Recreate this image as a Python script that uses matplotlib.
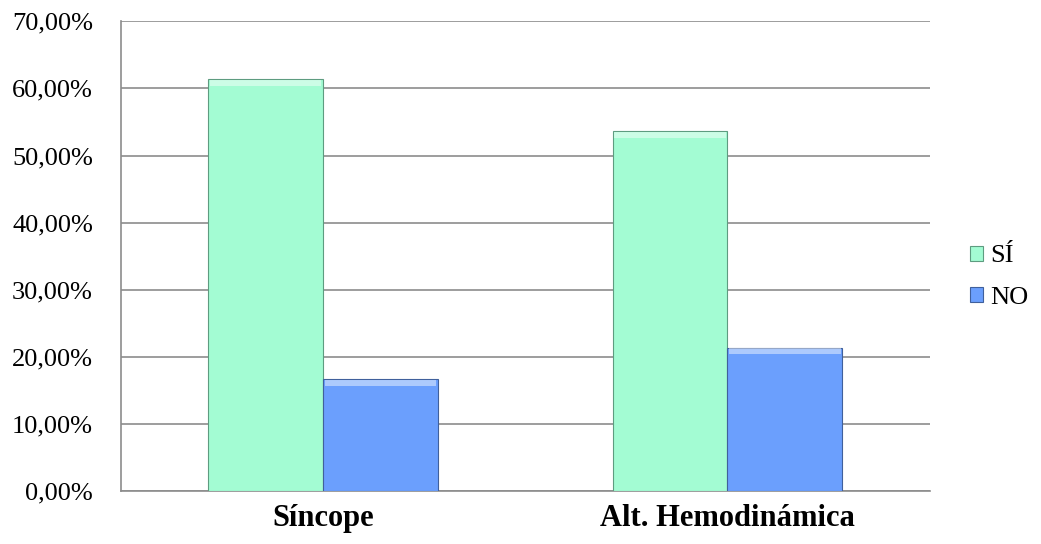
import matplotlib.pyplot as plt
import numpy as np
from matplotlib.ticker import FuncFormatter

plt.rcParams['font.family'] = ['Liberation Serif', 'DejaVu Serif']

categories = ['Síncope', 'Alt. Hemodinámica']
series = ['SÍ', 'NO']
si_vals = [61.4, 53.6]
no_vals = [16.7, 21.4]
colors = ['#a3fcd3', '#6b9ffd']
edges = ['#5e9c80', '#40609c']

fig = plt.figure(figsize=(10.41, 5.44), dpi=100)
ax = fig.add_axes([0.116, 0.097, 0.777, 0.864])

x = np.arange(len(categories))
w = 0.284
for i, (vals, c, ec, lab) in enumerate(zip([si_vals, no_vals], colors, edges, series)):
    off = (i - 0.5) * w
    ax.bar(x + off, vals, w, color=c, edgecolor=ec, linewidth=0.8, label=lab, zorder=3)
    # simple bevel: lighter strip on top of each bar
    ax.bar(x + off, [0.9] * len(vals), w * 0.97, bottom=np.array(vals) - 1.0,
           color='white', alpha=0.45, linewidth=0, zorder=4)

ax.set_xlim(-0.5, 1.5)
ax.set_ylim(0, 70)
ax.set_yticks(np.arange(0, 71, 10))
ax.yaxis.set_major_formatter(FuncFormatter(lambda v, p: f'{v:.2f}%'.replace('.', ',')))
ax.set_xticks(x)
ax.set_xticklabels(categories, fontweight='bold', fontsize=22)
ax.tick_params(axis='y', labelsize=19, length=0, pad=20)
ax.tick_params(axis='x', length=0, pad=9)
ax.yaxis.grid(True, color='#8c8c8c', linewidth=1.2, zorder=0)
for s in ['top', 'right']:
    ax.spines[s].set_visible(False)
for s in ['left', 'bottom']:
    ax.spines[s].set_color('#8c8c8c')
    ax.spines[s].set_linewidth(1.2)

leg = ax.legend(loc='center left', bbox_to_anchor=(1.02, 0.455), frameon=False,
                fontsize=19, handlelength=0.5, handleheight=0.5, handletextpad=0.3,
                labelspacing=0.75)

fig.savefig('out.png', dpi=100)
